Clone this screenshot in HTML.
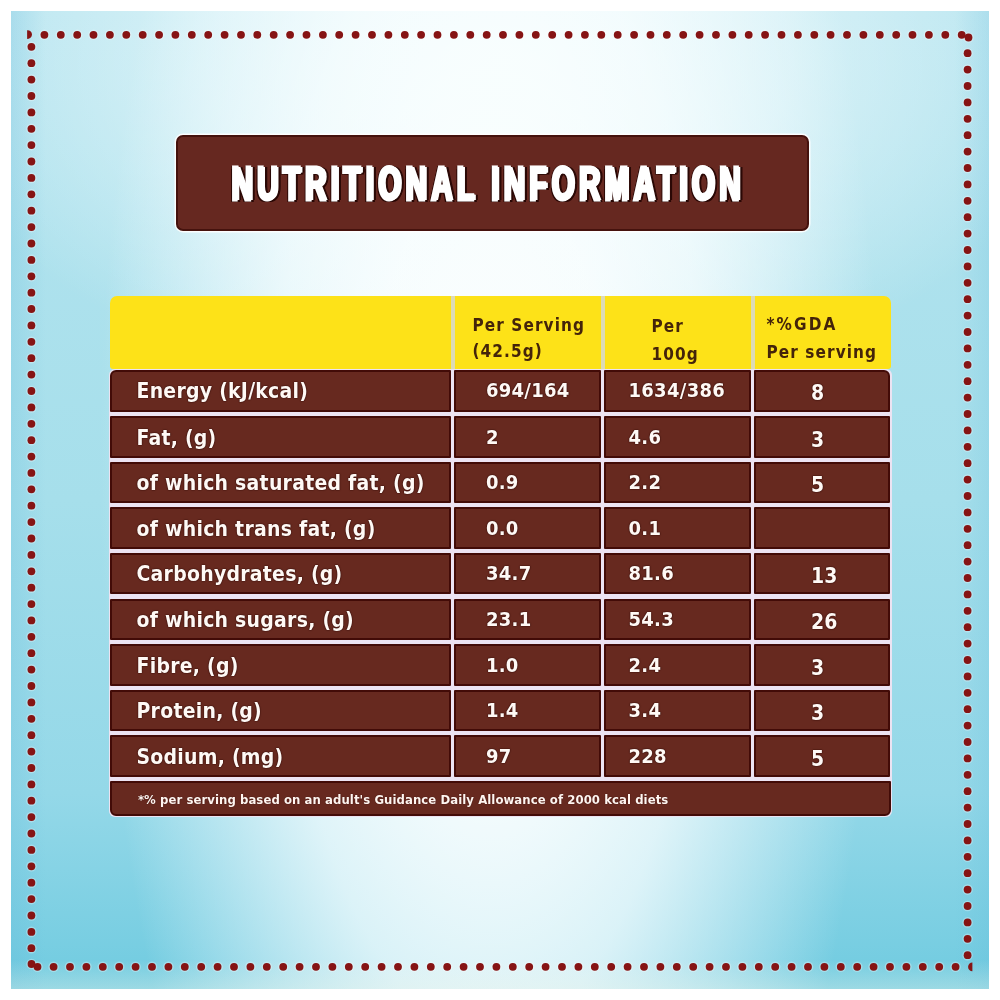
<!DOCTYPE html>
<html><head><meta charset="utf-8">
<style>
html,body{margin:0;padding:0;}
body{width:1000px;height:1000px;position:relative;overflow:hidden;background:#fff;}
.bg{position:absolute;left:11px;top:11px;width:978px;height:978px;
background:
 linear-gradient(180deg, rgba(255,255,255,0) 0%, rgba(255,255,255,0) 97%, rgba(240,245,235,0.35) 100%),
 linear-gradient(90deg, rgba(90,180,215,0.22) 0%, rgba(90,180,215,0) 3.5%, rgba(90,180,215,0) 96.5%, rgba(90,180,215,0.18) 100%),
 radial-gradient(ellipse 60% 35% at 50% 5%, rgba(250,255,255,0.75) 0%, rgba(248,254,255,0.5) 50%, rgba(240,250,255,0) 100%),
 radial-gradient(ellipse 40% 105% at 49% 47%, rgba(255,255,255,0.97) 0%, rgba(253,255,255,0.92) 30%, rgba(250,254,255,0.75) 55%, rgba(245,252,255,0.35) 80%, rgba(240,250,255,0) 100%),
 linear-gradient(180deg, #b5e4ef 0%, #a6dfeb 50%, #94d8e8 80%, #70cbe0 100%);}
svg.dots{position:absolute;left:0;top:0;}
.banner{position:absolute;left:175.5px;top:134.5px;width:633.5px;height:96px;box-sizing:border-box;
background:#662820;border:2.6px solid #45120d;border-radius:7px;box-shadow:0 0 0 1.5px rgba(255,255,255,0.9);}
.banner span{position:absolute;left:53px;top:16px;font-family:"Liberation Sans",sans-serif;font-weight:bold;font-size:49px;line-height:60px;color:#fff;white-space:nowrap;
transform-origin:0 0;transform:scaleX(0.6);letter-spacing:7.33px;
-webkit-text-stroke:3px #fff;text-shadow:1.5px 0 0 #fff, 3px 0 0 #fff, 4px 0 0 #fff, -3px 1.5px 0.6px #2a0805, -2.5px -1.2px 0.6px #2a0805, 7.5px 0 0.6px #2a0805, 2px 2.2px 0.6px #2a0805, 2px -1.5px 0.6px #2a0805, 6px 2px 0.6px #2a0805;}
.hdr{position:absolute;left:109.5px;top:295.5px;width:781px;height:73.5px;background:#fde218;border-radius:7px 7px 3px 3px;}
.hsep{position:absolute;top:0;width:4.5px;height:100%;background:#dcdab6;}
.ht{position:absolute;font-family:"DejaVu Sans Condensed","DejaVu Sans",sans-serif;font-weight:bold;font-size:17px;line-height:28px;color:#44240a;white-space:nowrap;letter-spacing:1.1px;}
.grid{position:absolute;left:108.5px;top:368.5px;width:783px;height:448.5px;background:#ece3f2;border-radius:6px;}
.c{position:absolute;box-sizing:border-box;background:#67291f;border:2.3px solid #420b07;border-radius:1px;}
.c.tl{border-top-left-radius:6px;}
.c.tr{border-top-right-radius:6px;}
.c span{position:absolute;font-family:"DejaVu Sans Condensed","DejaVu Sans",sans-serif;font-weight:bold;line-height:24px;color:#fff9f5;white-space:nowrap;
text-shadow:0 0 1.5px #2a0604, 0 0 1px #2a0604;}
.c span.lbl{left:25px;top:7.6px;font-size:21px;letter-spacing:0.25px;}
.c span.v{left:29.8px;top:6.5px;font-size:20px;letter-spacing:0.3px;}
.c span.v3{left:22.4px;top:6.5px;font-size:20px;letter-spacing:0.3px;}
.c span.v4{left:55px;top:9.6px;font-size:21px;}
.foot{position:absolute;left:109.5px;top:780.9px;width:781px;height:34.9px;box-sizing:border-box;background:#67291f;border:2.3px solid #420b07;border-radius:1px 1px 6px 6px;}
.foot span{position:absolute;left:26.4px;top:8.9px;letter-spacing:0.065px;font-family:"DejaVu Sans Condensed","DejaVu Sans",sans-serif;font-weight:bold;font-size:13px;line-height:16px;color:#fff5f0;white-space:nowrap;text-shadow:0 0 1px #2a0604;}
</style></head><body>
<div class="bg"></div>
<svg class="dots" width="1000" height="1000" viewBox="0 0 1000 1000">
<g fill="rgba(255,255,255,0.28)"><circle cx="44.4" cy="34.8" r="5.3"/><circle cx="60.8" cy="34.8" r="5.3"/><circle cx="77.2" cy="34.8" r="5.3"/><circle cx="93.5" cy="34.8" r="5.3"/><circle cx="109.9" cy="34.8" r="5.3"/><circle cx="126.3" cy="34.8" r="5.3"/><circle cx="142.7" cy="34.8" r="5.3"/><circle cx="159.1" cy="34.8" r="5.3"/><circle cx="175.4" cy="34.8" r="5.3"/><circle cx="191.8" cy="34.8" r="5.3"/><circle cx="208.2" cy="34.8" r="5.3"/><circle cx="224.6" cy="34.8" r="5.3"/><circle cx="241.0" cy="34.8" r="5.3"/><circle cx="257.3" cy="34.8" r="5.3"/><circle cx="273.7" cy="34.8" r="5.3"/><circle cx="290.1" cy="34.8" r="5.3"/><circle cx="306.5" cy="34.8" r="5.3"/><circle cx="322.9" cy="34.8" r="5.3"/><circle cx="339.2" cy="34.8" r="5.3"/><circle cx="355.6" cy="34.8" r="5.3"/><circle cx="372.0" cy="34.8" r="5.3"/><circle cx="388.4" cy="34.8" r="5.3"/><circle cx="404.8" cy="34.8" r="5.3"/><circle cx="421.1" cy="34.8" r="5.3"/><circle cx="437.5" cy="34.8" r="5.3"/><circle cx="453.9" cy="34.8" r="5.3"/><circle cx="470.3" cy="34.8" r="5.3"/><circle cx="486.7" cy="34.8" r="5.3"/><circle cx="503.0" cy="34.8" r="5.3"/><circle cx="519.4" cy="34.8" r="5.3"/><circle cx="535.8" cy="34.8" r="5.3"/><circle cx="552.2" cy="34.8" r="5.3"/><circle cx="568.6" cy="34.8" r="5.3"/><circle cx="584.9" cy="34.8" r="5.3"/><circle cx="601.3" cy="34.8" r="5.3"/><circle cx="617.7" cy="34.8" r="5.3"/><circle cx="634.1" cy="34.8" r="5.3"/><circle cx="650.5" cy="34.8" r="5.3"/><circle cx="666.8" cy="34.8" r="5.3"/><circle cx="683.2" cy="34.8" r="5.3"/><circle cx="699.6" cy="34.8" r="5.3"/><circle cx="716.0" cy="34.8" r="5.3"/><circle cx="732.4" cy="34.8" r="5.3"/><circle cx="748.7" cy="34.8" r="5.3"/><circle cx="765.1" cy="34.8" r="5.3"/><circle cx="781.5" cy="34.8" r="5.3"/><circle cx="797.9" cy="34.8" r="5.3"/><circle cx="814.3" cy="34.8" r="5.3"/><circle cx="830.6" cy="34.8" r="5.3"/><circle cx="847.0" cy="34.8" r="5.3"/><circle cx="863.4" cy="34.8" r="5.3"/><circle cx="879.8" cy="34.8" r="5.3"/><circle cx="896.2" cy="34.8" r="5.3"/><circle cx="912.5" cy="34.8" r="5.3"/><circle cx="928.9" cy="34.8" r="5.3"/><circle cx="945.3" cy="34.8" r="5.3"/><circle cx="961.7" cy="34.8" r="5.3"/><circle cx="31.4" cy="46.8" r="5.3"/><circle cx="31.4" cy="63.2" r="5.3"/><circle cx="31.4" cy="79.6" r="5.3"/><circle cx="31.4" cy="96.0" r="5.3"/><circle cx="31.4" cy="112.4" r="5.3"/><circle cx="31.4" cy="128.8" r="5.3"/><circle cx="31.4" cy="145.1" r="5.3"/><circle cx="31.4" cy="161.5" r="5.3"/><circle cx="31.4" cy="177.9" r="5.3"/><circle cx="31.4" cy="194.3" r="5.3"/><circle cx="31.4" cy="210.7" r="5.3"/><circle cx="31.4" cy="227.1" r="5.3"/><circle cx="31.4" cy="243.5" r="5.3"/><circle cx="31.4" cy="259.9" r="5.3"/><circle cx="31.4" cy="276.3" r="5.3"/><circle cx="31.4" cy="292.7" r="5.3"/><circle cx="31.4" cy="309.0" r="5.3"/><circle cx="31.4" cy="325.4" r="5.3"/><circle cx="31.4" cy="341.8" r="5.3"/><circle cx="31.4" cy="358.2" r="5.3"/><circle cx="31.4" cy="374.6" r="5.3"/><circle cx="31.4" cy="391.0" r="5.3"/><circle cx="31.4" cy="407.4" r="5.3"/><circle cx="31.4" cy="423.8" r="5.3"/><circle cx="31.4" cy="440.2" r="5.3"/><circle cx="31.4" cy="456.6" r="5.3"/><circle cx="31.4" cy="472.9" r="5.3"/><circle cx="31.4" cy="489.3" r="5.3"/><circle cx="31.4" cy="505.7" r="5.3"/><circle cx="31.4" cy="522.1" r="5.3"/><circle cx="31.4" cy="538.5" r="5.3"/><circle cx="31.4" cy="554.9" r="5.3"/><circle cx="31.4" cy="571.3" r="5.3"/><circle cx="31.4" cy="587.7" r="5.3"/><circle cx="31.4" cy="604.1" r="5.3"/><circle cx="31.4" cy="620.4" r="5.3"/><circle cx="31.4" cy="636.8" r="5.3"/><circle cx="31.4" cy="653.2" r="5.3"/><circle cx="31.4" cy="669.6" r="5.3"/><circle cx="31.4" cy="686.0" r="5.3"/><circle cx="31.4" cy="702.4" r="5.3"/><circle cx="31.4" cy="718.8" r="5.3"/><circle cx="31.4" cy="735.2" r="5.3"/><circle cx="31.4" cy="751.6" r="5.3"/><circle cx="31.4" cy="768.0" r="5.3"/><circle cx="31.4" cy="784.4" r="5.3"/><circle cx="31.4" cy="800.7" r="5.3"/><circle cx="31.4" cy="817.1" r="5.3"/><circle cx="31.4" cy="833.5" r="5.3"/><circle cx="31.4" cy="849.9" r="5.3"/><circle cx="31.4" cy="866.3" r="5.3"/><circle cx="31.4" cy="882.7" r="5.3"/><circle cx="31.4" cy="899.1" r="5.3"/><circle cx="31.4" cy="915.5" r="5.3"/><circle cx="31.4" cy="931.9" r="5.3"/><circle cx="31.4" cy="948.2" r="5.3"/><circle cx="967.6" cy="53.2" r="5.3"/><circle cx="967.6" cy="69.6" r="5.3"/><circle cx="967.6" cy="86.0" r="5.3"/><circle cx="967.6" cy="102.4" r="5.3"/><circle cx="967.6" cy="118.8" r="5.3"/><circle cx="967.6" cy="135.2" r="5.3"/><circle cx="967.6" cy="151.6" r="5.3"/><circle cx="967.6" cy="168.0" r="5.3"/><circle cx="967.6" cy="184.4" r="5.3"/><circle cx="967.6" cy="200.8" r="5.3"/><circle cx="967.6" cy="217.2" r="5.3"/><circle cx="967.6" cy="233.6" r="5.3"/><circle cx="967.6" cy="250.0" r="5.3"/><circle cx="967.6" cy="266.4" r="5.3"/><circle cx="967.6" cy="282.8" r="5.3"/><circle cx="967.6" cy="299.2" r="5.3"/><circle cx="967.6" cy="315.6" r="5.3"/><circle cx="967.6" cy="332.0" r="5.3"/><circle cx="967.6" cy="348.4" r="5.3"/><circle cx="967.6" cy="364.8" r="5.3"/><circle cx="967.6" cy="381.2" r="5.3"/><circle cx="967.6" cy="397.6" r="5.3"/><circle cx="967.6" cy="414.0" r="5.3"/><circle cx="967.6" cy="430.4" r="5.3"/><circle cx="967.6" cy="446.8" r="5.3"/><circle cx="967.6" cy="463.2" r="5.3"/><circle cx="967.6" cy="479.6" r="5.3"/><circle cx="967.6" cy="496.0" r="5.3"/><circle cx="967.6" cy="512.4" r="5.3"/><circle cx="967.6" cy="528.8" r="5.3"/><circle cx="967.6" cy="545.2" r="5.3"/><circle cx="967.6" cy="561.6" r="5.3"/><circle cx="967.6" cy="578.0" r="5.3"/><circle cx="967.6" cy="594.4" r="5.3"/><circle cx="967.6" cy="610.8" r="5.3"/><circle cx="967.6" cy="627.2" r="5.3"/><circle cx="967.6" cy="643.6" r="5.3"/><circle cx="967.6" cy="660.0" r="5.3"/><circle cx="967.6" cy="676.4" r="5.3"/><circle cx="967.6" cy="692.8" r="5.3"/><circle cx="967.6" cy="709.2" r="5.3"/><circle cx="967.6" cy="725.6" r="5.3"/><circle cx="967.6" cy="742.0" r="5.3"/><circle cx="967.6" cy="758.4" r="5.3"/><circle cx="967.6" cy="774.8" r="5.3"/><circle cx="967.6" cy="791.2" r="5.3"/><circle cx="967.6" cy="807.6" r="5.3"/><circle cx="967.6" cy="824.0" r="5.3"/><circle cx="967.6" cy="840.4" r="5.3"/><circle cx="967.6" cy="856.8" r="5.3"/><circle cx="967.6" cy="873.2" r="5.3"/><circle cx="967.6" cy="889.6" r="5.3"/><circle cx="967.6" cy="906.0" r="5.3"/><circle cx="967.6" cy="922.4" r="5.3"/><circle cx="967.6" cy="938.8" r="5.3"/><circle cx="967.6" cy="955.2" r="5.3"/><circle cx="53.6" cy="966.8" r="5.3"/><circle cx="70.0" cy="966.8" r="5.3"/><circle cx="86.4" cy="966.8" r="5.3"/><circle cx="102.8" cy="966.8" r="5.3"/><circle cx="119.2" cy="966.8" r="5.3"/><circle cx="135.6" cy="966.8" r="5.3"/><circle cx="152.0" cy="966.8" r="5.3"/><circle cx="168.4" cy="966.8" r="5.3"/><circle cx="184.8" cy="966.8" r="5.3"/><circle cx="201.2" cy="966.8" r="5.3"/><circle cx="217.6" cy="966.8" r="5.3"/><circle cx="234.0" cy="966.8" r="5.3"/><circle cx="250.4" cy="966.8" r="5.3"/><circle cx="266.8" cy="966.8" r="5.3"/><circle cx="283.2" cy="966.8" r="5.3"/><circle cx="299.6" cy="966.8" r="5.3"/><circle cx="316.0" cy="966.8" r="5.3"/><circle cx="332.4" cy="966.8" r="5.3"/><circle cx="348.8" cy="966.8" r="5.3"/><circle cx="365.2" cy="966.8" r="5.3"/><circle cx="381.6" cy="966.8" r="5.3"/><circle cx="398.0" cy="966.8" r="5.3"/><circle cx="414.4" cy="966.8" r="5.3"/><circle cx="430.8" cy="966.8" r="5.3"/><circle cx="447.2" cy="966.8" r="5.3"/><circle cx="463.6" cy="966.8" r="5.3"/><circle cx="480.0" cy="966.8" r="5.3"/><circle cx="496.4" cy="966.8" r="5.3"/><circle cx="512.8" cy="966.8" r="5.3"/><circle cx="529.2" cy="966.8" r="5.3"/><circle cx="545.6" cy="966.8" r="5.3"/><circle cx="562.0" cy="966.8" r="5.3"/><circle cx="578.4" cy="966.8" r="5.3"/><circle cx="594.8" cy="966.8" r="5.3"/><circle cx="611.2" cy="966.8" r="5.3"/><circle cx="627.6" cy="966.8" r="5.3"/><circle cx="644.0" cy="966.8" r="5.3"/><circle cx="660.4" cy="966.8" r="5.3"/><circle cx="676.8" cy="966.8" r="5.3"/><circle cx="693.2" cy="966.8" r="5.3"/><circle cx="709.6" cy="966.8" r="5.3"/><circle cx="726.0" cy="966.8" r="5.3"/><circle cx="742.4" cy="966.8" r="5.3"/><circle cx="758.8" cy="966.8" r="5.3"/><circle cx="775.2" cy="966.8" r="5.3"/><circle cx="791.6" cy="966.8" r="5.3"/><circle cx="808.0" cy="966.8" r="5.3"/><circle cx="824.4" cy="966.8" r="5.3"/><circle cx="840.8" cy="966.8" r="5.3"/><circle cx="857.2" cy="966.8" r="5.3"/><circle cx="873.6" cy="966.8" r="5.3"/><circle cx="890.0" cy="966.8" r="5.3"/><circle cx="906.4" cy="966.8" r="5.3"/><circle cx="922.8" cy="966.8" r="5.3"/><circle cx="939.2" cy="966.8" r="5.3"/><circle cx="955.6" cy="966.8" r="5.3"/><circle cx="968.5" cy="37.5" r="5.3"/><circle cx="31.5" cy="964.0" r="5.3"/><circle cx="37.5" cy="966.8" r="5.3"/></g><g fill="#861414"><circle cx="44.4" cy="34.8" r="3.9"/><circle cx="60.8" cy="34.8" r="3.9"/><circle cx="77.2" cy="34.8" r="3.9"/><circle cx="93.5" cy="34.8" r="3.9"/><circle cx="109.9" cy="34.8" r="3.9"/><circle cx="126.3" cy="34.8" r="3.9"/><circle cx="142.7" cy="34.8" r="3.9"/><circle cx="159.1" cy="34.8" r="3.9"/><circle cx="175.4" cy="34.8" r="3.9"/><circle cx="191.8" cy="34.8" r="3.9"/><circle cx="208.2" cy="34.8" r="3.9"/><circle cx="224.6" cy="34.8" r="3.9"/><circle cx="241.0" cy="34.8" r="3.9"/><circle cx="257.3" cy="34.8" r="3.9"/><circle cx="273.7" cy="34.8" r="3.9"/><circle cx="290.1" cy="34.8" r="3.9"/><circle cx="306.5" cy="34.8" r="3.9"/><circle cx="322.9" cy="34.8" r="3.9"/><circle cx="339.2" cy="34.8" r="3.9"/><circle cx="355.6" cy="34.8" r="3.9"/><circle cx="372.0" cy="34.8" r="3.9"/><circle cx="388.4" cy="34.8" r="3.9"/><circle cx="404.8" cy="34.8" r="3.9"/><circle cx="421.1" cy="34.8" r="3.9"/><circle cx="437.5" cy="34.8" r="3.9"/><circle cx="453.9" cy="34.8" r="3.9"/><circle cx="470.3" cy="34.8" r="3.9"/><circle cx="486.7" cy="34.8" r="3.9"/><circle cx="503.0" cy="34.8" r="3.9"/><circle cx="519.4" cy="34.8" r="3.9"/><circle cx="535.8" cy="34.8" r="3.9"/><circle cx="552.2" cy="34.8" r="3.9"/><circle cx="568.6" cy="34.8" r="3.9"/><circle cx="584.9" cy="34.8" r="3.9"/><circle cx="601.3" cy="34.8" r="3.9"/><circle cx="617.7" cy="34.8" r="3.9"/><circle cx="634.1" cy="34.8" r="3.9"/><circle cx="650.5" cy="34.8" r="3.9"/><circle cx="666.8" cy="34.8" r="3.9"/><circle cx="683.2" cy="34.8" r="3.9"/><circle cx="699.6" cy="34.8" r="3.9"/><circle cx="716.0" cy="34.8" r="3.9"/><circle cx="732.4" cy="34.8" r="3.9"/><circle cx="748.7" cy="34.8" r="3.9"/><circle cx="765.1" cy="34.8" r="3.9"/><circle cx="781.5" cy="34.8" r="3.9"/><circle cx="797.9" cy="34.8" r="3.9"/><circle cx="814.3" cy="34.8" r="3.9"/><circle cx="830.6" cy="34.8" r="3.9"/><circle cx="847.0" cy="34.8" r="3.9"/><circle cx="863.4" cy="34.8" r="3.9"/><circle cx="879.8" cy="34.8" r="3.9"/><circle cx="896.2" cy="34.8" r="3.9"/><circle cx="912.5" cy="34.8" r="3.9"/><circle cx="928.9" cy="34.8" r="3.9"/><circle cx="945.3" cy="34.8" r="3.9"/><circle cx="961.7" cy="34.8" r="3.9"/><circle cx="31.4" cy="46.8" r="3.9"/><circle cx="31.4" cy="63.2" r="3.9"/><circle cx="31.4" cy="79.6" r="3.9"/><circle cx="31.4" cy="96.0" r="3.9"/><circle cx="31.4" cy="112.4" r="3.9"/><circle cx="31.4" cy="128.8" r="3.9"/><circle cx="31.4" cy="145.1" r="3.9"/><circle cx="31.4" cy="161.5" r="3.9"/><circle cx="31.4" cy="177.9" r="3.9"/><circle cx="31.4" cy="194.3" r="3.9"/><circle cx="31.4" cy="210.7" r="3.9"/><circle cx="31.4" cy="227.1" r="3.9"/><circle cx="31.4" cy="243.5" r="3.9"/><circle cx="31.4" cy="259.9" r="3.9"/><circle cx="31.4" cy="276.3" r="3.9"/><circle cx="31.4" cy="292.7" r="3.9"/><circle cx="31.4" cy="309.0" r="3.9"/><circle cx="31.4" cy="325.4" r="3.9"/><circle cx="31.4" cy="341.8" r="3.9"/><circle cx="31.4" cy="358.2" r="3.9"/><circle cx="31.4" cy="374.6" r="3.9"/><circle cx="31.4" cy="391.0" r="3.9"/><circle cx="31.4" cy="407.4" r="3.9"/><circle cx="31.4" cy="423.8" r="3.9"/><circle cx="31.4" cy="440.2" r="3.9"/><circle cx="31.4" cy="456.6" r="3.9"/><circle cx="31.4" cy="472.9" r="3.9"/><circle cx="31.4" cy="489.3" r="3.9"/><circle cx="31.4" cy="505.7" r="3.9"/><circle cx="31.4" cy="522.1" r="3.9"/><circle cx="31.4" cy="538.5" r="3.9"/><circle cx="31.4" cy="554.9" r="3.9"/><circle cx="31.4" cy="571.3" r="3.9"/><circle cx="31.4" cy="587.7" r="3.9"/><circle cx="31.4" cy="604.1" r="3.9"/><circle cx="31.4" cy="620.4" r="3.9"/><circle cx="31.4" cy="636.8" r="3.9"/><circle cx="31.4" cy="653.2" r="3.9"/><circle cx="31.4" cy="669.6" r="3.9"/><circle cx="31.4" cy="686.0" r="3.9"/><circle cx="31.4" cy="702.4" r="3.9"/><circle cx="31.4" cy="718.8" r="3.9"/><circle cx="31.4" cy="735.2" r="3.9"/><circle cx="31.4" cy="751.6" r="3.9"/><circle cx="31.4" cy="768.0" r="3.9"/><circle cx="31.4" cy="784.4" r="3.9"/><circle cx="31.4" cy="800.7" r="3.9"/><circle cx="31.4" cy="817.1" r="3.9"/><circle cx="31.4" cy="833.5" r="3.9"/><circle cx="31.4" cy="849.9" r="3.9"/><circle cx="31.4" cy="866.3" r="3.9"/><circle cx="31.4" cy="882.7" r="3.9"/><circle cx="31.4" cy="899.1" r="3.9"/><circle cx="31.4" cy="915.5" r="3.9"/><circle cx="31.4" cy="931.9" r="3.9"/><circle cx="31.4" cy="948.2" r="3.9"/><circle cx="967.6" cy="53.2" r="3.9"/><circle cx="967.6" cy="69.6" r="3.9"/><circle cx="967.6" cy="86.0" r="3.9"/><circle cx="967.6" cy="102.4" r="3.9"/><circle cx="967.6" cy="118.8" r="3.9"/><circle cx="967.6" cy="135.2" r="3.9"/><circle cx="967.6" cy="151.6" r="3.9"/><circle cx="967.6" cy="168.0" r="3.9"/><circle cx="967.6" cy="184.4" r="3.9"/><circle cx="967.6" cy="200.8" r="3.9"/><circle cx="967.6" cy="217.2" r="3.9"/><circle cx="967.6" cy="233.6" r="3.9"/><circle cx="967.6" cy="250.0" r="3.9"/><circle cx="967.6" cy="266.4" r="3.9"/><circle cx="967.6" cy="282.8" r="3.9"/><circle cx="967.6" cy="299.2" r="3.9"/><circle cx="967.6" cy="315.6" r="3.9"/><circle cx="967.6" cy="332.0" r="3.9"/><circle cx="967.6" cy="348.4" r="3.9"/><circle cx="967.6" cy="364.8" r="3.9"/><circle cx="967.6" cy="381.2" r="3.9"/><circle cx="967.6" cy="397.6" r="3.9"/><circle cx="967.6" cy="414.0" r="3.9"/><circle cx="967.6" cy="430.4" r="3.9"/><circle cx="967.6" cy="446.8" r="3.9"/><circle cx="967.6" cy="463.2" r="3.9"/><circle cx="967.6" cy="479.6" r="3.9"/><circle cx="967.6" cy="496.0" r="3.9"/><circle cx="967.6" cy="512.4" r="3.9"/><circle cx="967.6" cy="528.8" r="3.9"/><circle cx="967.6" cy="545.2" r="3.9"/><circle cx="967.6" cy="561.6" r="3.9"/><circle cx="967.6" cy="578.0" r="3.9"/><circle cx="967.6" cy="594.4" r="3.9"/><circle cx="967.6" cy="610.8" r="3.9"/><circle cx="967.6" cy="627.2" r="3.9"/><circle cx="967.6" cy="643.6" r="3.9"/><circle cx="967.6" cy="660.0" r="3.9"/><circle cx="967.6" cy="676.4" r="3.9"/><circle cx="967.6" cy="692.8" r="3.9"/><circle cx="967.6" cy="709.2" r="3.9"/><circle cx="967.6" cy="725.6" r="3.9"/><circle cx="967.6" cy="742.0" r="3.9"/><circle cx="967.6" cy="758.4" r="3.9"/><circle cx="967.6" cy="774.8" r="3.9"/><circle cx="967.6" cy="791.2" r="3.9"/><circle cx="967.6" cy="807.6" r="3.9"/><circle cx="967.6" cy="824.0" r="3.9"/><circle cx="967.6" cy="840.4" r="3.9"/><circle cx="967.6" cy="856.8" r="3.9"/><circle cx="967.6" cy="873.2" r="3.9"/><circle cx="967.6" cy="889.6" r="3.9"/><circle cx="967.6" cy="906.0" r="3.9"/><circle cx="967.6" cy="922.4" r="3.9"/><circle cx="967.6" cy="938.8" r="3.9"/><circle cx="967.6" cy="955.2" r="3.9"/><circle cx="53.6" cy="966.8" r="3.9"/><circle cx="70.0" cy="966.8" r="3.9"/><circle cx="86.4" cy="966.8" r="3.9"/><circle cx="102.8" cy="966.8" r="3.9"/><circle cx="119.2" cy="966.8" r="3.9"/><circle cx="135.6" cy="966.8" r="3.9"/><circle cx="152.0" cy="966.8" r="3.9"/><circle cx="168.4" cy="966.8" r="3.9"/><circle cx="184.8" cy="966.8" r="3.9"/><circle cx="201.2" cy="966.8" r="3.9"/><circle cx="217.6" cy="966.8" r="3.9"/><circle cx="234.0" cy="966.8" r="3.9"/><circle cx="250.4" cy="966.8" r="3.9"/><circle cx="266.8" cy="966.8" r="3.9"/><circle cx="283.2" cy="966.8" r="3.9"/><circle cx="299.6" cy="966.8" r="3.9"/><circle cx="316.0" cy="966.8" r="3.9"/><circle cx="332.4" cy="966.8" r="3.9"/><circle cx="348.8" cy="966.8" r="3.9"/><circle cx="365.2" cy="966.8" r="3.9"/><circle cx="381.6" cy="966.8" r="3.9"/><circle cx="398.0" cy="966.8" r="3.9"/><circle cx="414.4" cy="966.8" r="3.9"/><circle cx="430.8" cy="966.8" r="3.9"/><circle cx="447.2" cy="966.8" r="3.9"/><circle cx="463.6" cy="966.8" r="3.9"/><circle cx="480.0" cy="966.8" r="3.9"/><circle cx="496.4" cy="966.8" r="3.9"/><circle cx="512.8" cy="966.8" r="3.9"/><circle cx="529.2" cy="966.8" r="3.9"/><circle cx="545.6" cy="966.8" r="3.9"/><circle cx="562.0" cy="966.8" r="3.9"/><circle cx="578.4" cy="966.8" r="3.9"/><circle cx="594.8" cy="966.8" r="3.9"/><circle cx="611.2" cy="966.8" r="3.9"/><circle cx="627.6" cy="966.8" r="3.9"/><circle cx="644.0" cy="966.8" r="3.9"/><circle cx="660.4" cy="966.8" r="3.9"/><circle cx="676.8" cy="966.8" r="3.9"/><circle cx="693.2" cy="966.8" r="3.9"/><circle cx="709.6" cy="966.8" r="3.9"/><circle cx="726.0" cy="966.8" r="3.9"/><circle cx="742.4" cy="966.8" r="3.9"/><circle cx="758.8" cy="966.8" r="3.9"/><circle cx="775.2" cy="966.8" r="3.9"/><circle cx="791.6" cy="966.8" r="3.9"/><circle cx="808.0" cy="966.8" r="3.9"/><circle cx="824.4" cy="966.8" r="3.9"/><circle cx="840.8" cy="966.8" r="3.9"/><circle cx="857.2" cy="966.8" r="3.9"/><circle cx="873.6" cy="966.8" r="3.9"/><circle cx="890.0" cy="966.8" r="3.9"/><circle cx="906.4" cy="966.8" r="3.9"/><circle cx="922.8" cy="966.8" r="3.9"/><circle cx="939.2" cy="966.8" r="3.9"/><circle cx="955.6" cy="966.8" r="3.9"/><circle cx="968.5" cy="37.5" r="3.9"/><circle cx="31.5" cy="964.0" r="3.9"/><circle cx="37.5" cy="966.8" r="3.9"/><path d="M27.1,30.34 A4.3,4.3 0 1 1 27.1,38.86 Z"/><path d="M972.4,962.6 A4.3,4.3 0 1 0 972.4,971.2 Z"/></g>
</svg>
<div class="banner"><span>NUTRITIONAL INFORMATION</span></div>
<div class="hdr">
<div class="hsep" style="left:341px"></div>
<div class="hsep" style="left:491px"></div>
<div class="hsep" style="left:641px"></div>
<div class="ht" style="left:363px;top:16.3px;line-height:26.6px"><span>Per Serving</span><br><span>(42.5g)</span></div>
<div class="ht" style="left:542px;top:16px"><span>Per</span><br><span>100g</span></div>
<div class="ht" style="left:657px;top:14px"><span style="letter-spacing:2.1px">*%GDA</span><br><span>Per serving</span></div>
</div>
<div class="grid"></div>
<div class="c tl" style="left:109.5px;top:369.50px;width:341.5px;height:42.40px"><span class="lbl">Energy (kJ/kcal)</span></div>
<div class="c" style="left:454.1px;top:369.50px;width:147.0px;height:42.40px"><span class="v">694/164</span></div>
<div class="c" style="left:604.1px;top:369.50px;width:146.9px;height:42.40px"><span class="v3">1634/386</span></div>
<div class="c tr" style="left:754.1px;top:369.50px;width:136.4px;height:42.40px"><span class="v4">8</span></div>
<div class="c" style="left:109.5px;top:416.00px;width:341.5px;height:41.60px"><span class="lbl">Fat, (g)</span></div>
<div class="c" style="left:454.1px;top:416.00px;width:147.0px;height:41.60px"><span class="v">2</span></div>
<div class="c" style="left:604.1px;top:416.00px;width:146.9px;height:41.60px"><span class="v3">4.6</span></div>
<div class="c" style="left:754.1px;top:416.00px;width:136.4px;height:41.60px"><span class="v4">3</span></div>
<div class="c" style="left:109.5px;top:461.63px;width:341.5px;height:41.60px"><span class="lbl">of which saturated fat, (g)</span></div>
<div class="c" style="left:454.1px;top:461.63px;width:147.0px;height:41.60px"><span class="v">0.9</span></div>
<div class="c" style="left:604.1px;top:461.63px;width:146.9px;height:41.60px"><span class="v3">2.2</span></div>
<div class="c" style="left:754.1px;top:461.63px;width:136.4px;height:41.60px"><span class="v4">5</span></div>
<div class="c" style="left:109.5px;top:507.26px;width:341.5px;height:41.60px"><span class="lbl">of which trans fat, (g)</span></div>
<div class="c" style="left:454.1px;top:507.26px;width:147.0px;height:41.60px"><span class="v">0.0</span></div>
<div class="c" style="left:604.1px;top:507.26px;width:146.9px;height:41.60px"><span class="v3">0.1</span></div>
<div class="c" style="left:754.1px;top:507.26px;width:136.4px;height:41.60px"><span class="v4"></span></div>
<div class="c" style="left:109.5px;top:552.89px;width:341.5px;height:41.60px"><span class="lbl">Carbohydrates, (g)</span></div>
<div class="c" style="left:454.1px;top:552.89px;width:147.0px;height:41.60px"><span class="v">34.7</span></div>
<div class="c" style="left:604.1px;top:552.89px;width:146.9px;height:41.60px"><span class="v3">81.6</span></div>
<div class="c" style="left:754.1px;top:552.89px;width:136.4px;height:41.60px"><span class="v4">13</span></div>
<div class="c" style="left:109.5px;top:598.52px;width:341.5px;height:41.60px"><span class="lbl">of which sugars, (g)</span></div>
<div class="c" style="left:454.1px;top:598.52px;width:147.0px;height:41.60px"><span class="v">23.1</span></div>
<div class="c" style="left:604.1px;top:598.52px;width:146.9px;height:41.60px"><span class="v3">54.3</span></div>
<div class="c" style="left:754.1px;top:598.52px;width:136.4px;height:41.60px"><span class="v4">26</span></div>
<div class="c" style="left:109.5px;top:644.15px;width:341.5px;height:41.60px"><span class="lbl">Fibre, (g)</span></div>
<div class="c" style="left:454.1px;top:644.15px;width:147.0px;height:41.60px"><span class="v">1.0</span></div>
<div class="c" style="left:604.1px;top:644.15px;width:146.9px;height:41.60px"><span class="v3">2.4</span></div>
<div class="c" style="left:754.1px;top:644.15px;width:136.4px;height:41.60px"><span class="v4">3</span></div>
<div class="c" style="left:109.5px;top:689.78px;width:341.5px;height:41.60px"><span class="lbl">Protein, (g)</span></div>
<div class="c" style="left:454.1px;top:689.78px;width:147.0px;height:41.60px"><span class="v">1.4</span></div>
<div class="c" style="left:604.1px;top:689.78px;width:146.9px;height:41.60px"><span class="v3">3.4</span></div>
<div class="c" style="left:754.1px;top:689.78px;width:136.4px;height:41.60px"><span class="v4">3</span></div>
<div class="c" style="left:109.5px;top:735.41px;width:341.5px;height:41.60px"><span class="lbl">Sodium, (mg)</span></div>
<div class="c" style="left:454.1px;top:735.41px;width:147.0px;height:41.60px"><span class="v">97</span></div>
<div class="c" style="left:604.1px;top:735.41px;width:146.9px;height:41.60px"><span class="v3">228</span></div>
<div class="c" style="left:754.1px;top:735.41px;width:136.4px;height:41.60px"><span class="v4">5</span></div>
<div class="foot"><span>*% per serving based on an adult's Guidance Daily Allowance of 2000 kcal diets</span></div>
</body></html>
